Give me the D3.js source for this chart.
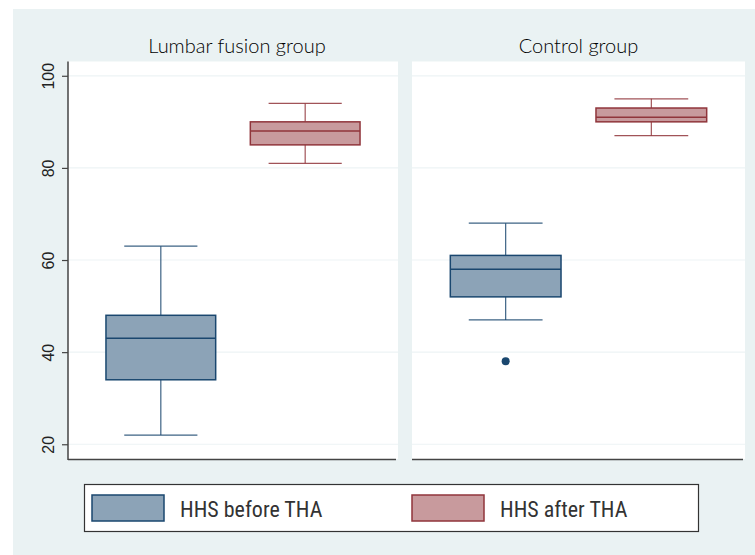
<!DOCTYPE html>
<html>
<head>
<meta charset="utf-8">
<script src="https://cdn.jsdelivr.net/npm/d3@7"></script>
<style>
  html, body { margin: 0; padding: 0; background: #ffffff; }
  svg { display: block; }
</style>
</head>
<body>
<svg id="chart"></svg>
<script>
// data
const panels = ["Lumbar fusion group", "Control group"];
const series = ["HHS before THA", "HHS after THA"];
const whiskerLow  = [[22, 81], [47, 87]];
const q1          = [[34, 85], [52, 90]];
const median      = [[43, 88], [58, 91]];
const q3          = [[48, 90], [61, 93]];
const whiskerHigh = [[63, 94], [68, 95]];
const outliers    = [[[], []], [[38], []]];
const yTicks = [20, 40, 60, 80, 100];

const navy = "#1A476F";
const maroon = "#90353B";
const navyFill = "#8CA3B7";
const maroonFill = "#C89A9D";
const bgColor = "#EAF2F3";
const gridColor = "#EDF3F5";
const axisColor = "#444444";

const width = 755;
const height = 555;

const svg = d3.select("#chart")
    .attr("width", width)
    .attr("height", height);

// outer background
svg.append("rect")
    .attr("x", 13)
    .attr("y", 9)
    .attr("width", width - 13)
    .attr("height", height - 9)
    .style("fill", bgColor);

const plotTop = 61.5;
const plotBottom = 459;
const panelX = [[68, 398], [412, 745]];

const yScale = d3.scaleLinear()
    .domain([16.8, 103.1])
    .range([plotBottom, plotTop]);

const strokeColors = [navy, maroon];
const fillColors = [navyFill, maroonFill];

panels.forEach((panelName, p) => {
    const [x0, x1] = panelX[p];

    const xScale = d3.scaleBand()
        .domain(series)
        .range([x0, x1])
        .paddingInner(0.24)
        .paddingOuter(0.263);

    const g = svg.append("g").attr("class", "panel");

    // plot region
    g.append("rect")
        .attr("x", x0)
        .attr("y", plotTop)
        .attr("width", x1 - x0)
        .attr("height", plotBottom - plotTop)
        .style("fill", "white");

    // grid
    g.selectAll(".grid")
        .data(yTicks)
        .enter()
        .append("line")
        .attr("class", "grid")
        .attr("x1", x0)
        .attr("x2", x1)
        .attr("y1", d => yScale(d))
        .attr("y2", d => yScale(d))
        .style("stroke", gridColor)
        .style("stroke-width", 1.2);

    // title
    g.append("text")
        .attr("x", (x0 + x1) / 2 + (p === 0 ? 4 : 0))
        .attr("y", 53)
        .attr("text-anchor", "middle")
        .style("font-family", "Lato, 'Open Sans', sans-serif")
        .style("font-weight", 300)
        .style("font-size", "20px")
        .style("fill", "#000")
        .text(panelName);

    // boxes
    series.forEach((s, i) => {
        const cx = xScale(s) + xScale.bandwidth() / 2;
        const bw = xScale.bandwidth();
        const capW = bw * 2 / 3;
        const stroke = strokeColors[i];

        // whiskers
        g.append("line")
            .attr("x1", cx).attr("x2", cx)
            .attr("y1", yScale(whiskerHigh[p][i]))
            .attr("y2", yScale(q3[p][i]))
            .style("stroke", stroke)
            .style("stroke-width", 1.2)
            .style("stroke-opacity", 0.85);
        g.append("line")
            .attr("x1", cx).attr("x2", cx)
            .attr("y1", yScale(q1[p][i]))
            .attr("y2", yScale(whiskerLow[p][i]))
            .style("stroke", stroke)
            .style("stroke-width", 1.2)
            .style("stroke-opacity", 0.85);

        [whiskerHigh[p][i], whiskerLow[p][i]].forEach(v => {
            g.append("line")
                .attr("x1", cx - capW / 2).attr("x2", cx + capW / 2)
                .attr("y1", yScale(v)).attr("y2", yScale(v))
                .style("stroke", stroke)
                .style("stroke-width", 1.2)
                .style("stroke-opacity", 0.85);
        });

        g.append("rect")
            .attr("x", xScale(s))
            .attr("y", yScale(q3[p][i]))
            .attr("width", bw)
            .attr("height", yScale(q1[p][i]) - yScale(q3[p][i]))
            .style("fill", fillColors[i])
            .style("stroke", stroke)
            .style("stroke-width", 1.5);

        g.append("line")
            .attr("x1", xScale(s)).attr("x2", xScale(s) + bw)
            .attr("y1", yScale(median[p][i])).attr("y2", yScale(median[p][i]))
            .style("stroke", stroke)
            .style("stroke-width", 1.5);

        g.selectAll(null)
            .data(outliers[p][i])
            .enter()
            .append("circle")
            .attr("cx", cx)
            .attr("cy", d => yScale(d))
            .attr("r", 4)
            .style("fill", stroke);
    });

    // bottom axis line
    g.append("line")
        .attr("x1", x0)
        .attr("x2", x1 - 2)
        .attr("y1", plotBottom + 0.5)
        .attr("y2", plotBottom + 0.5)
        .style("stroke", axisColor)
        .style("stroke-width", 1.5);
});

// y axis
const yAxis = d3.axisLeft(yScale)
    .tickValues(yTicks)
    .tickSize(6)
    .tickPadding(6)
    .tickFormat(d3.format("d"));

const yAxisG = svg.append("g")
    .attr("class", "axis yaxis")
    .attr("transform", `translate(${panelX[0][0]}, 0)`)
    .call(yAxis);

yAxisG.select(".domain")
    .attr("d", `M0,${plotTop}V${plotBottom + 1}`)
    .style("stroke", axisColor)
    .style("stroke-width", 1.5);

yAxisG.selectAll(".tick line")
    .style("stroke", axisColor)
    .style("stroke-width", 1.2);

yAxisG.selectAll(".tick text")
    .attr("x", 0)
    .attr("dy", null)
    .attr("text-anchor", "middle")
    .attr("transform", "translate(-14, 0) rotate(-90)")
    .style("font-family", "'Liberation Sans', Arial, sans-serif")
    .style("font-size", "16px")
    .style("fill", "#222");

// legend
const legend = svg.append("g").attr("class", "legend");

legend.append("rect")
    .attr("x", 84.5)
    .attr("y", 484.5)
    .attr("width", 614)
    .attr("height", 47)
    .style("fill", "white")
    .style("stroke", "#333")
    .style("stroke-width", 1.2);

const legendX = d3.scaleOrdinal()
    .domain(series)
    .range([92, 412]);

series.forEach((s, i) => {
    legend.append("rect")
        .attr("x", legendX(s))
        .attr("y", 495)
        .attr("width", 72)
        .attr("height", 26)
        .style("fill", fillColors[i])
        .style("stroke", strokeColors[i])
        .style("stroke-width", 1.5);

    legend.append("text")
        .attr("x", legendX(s) + 88)
        .attr("y", 517)
        .style("font-family", "'Liberation Sans Narrow', 'Roboto Condensed', 'Liberation Sans', sans-serif")
        .style("font-size", "22px")
        .style("fill", "#333")
        .text(s);
});
</script>
</body>
</html>
